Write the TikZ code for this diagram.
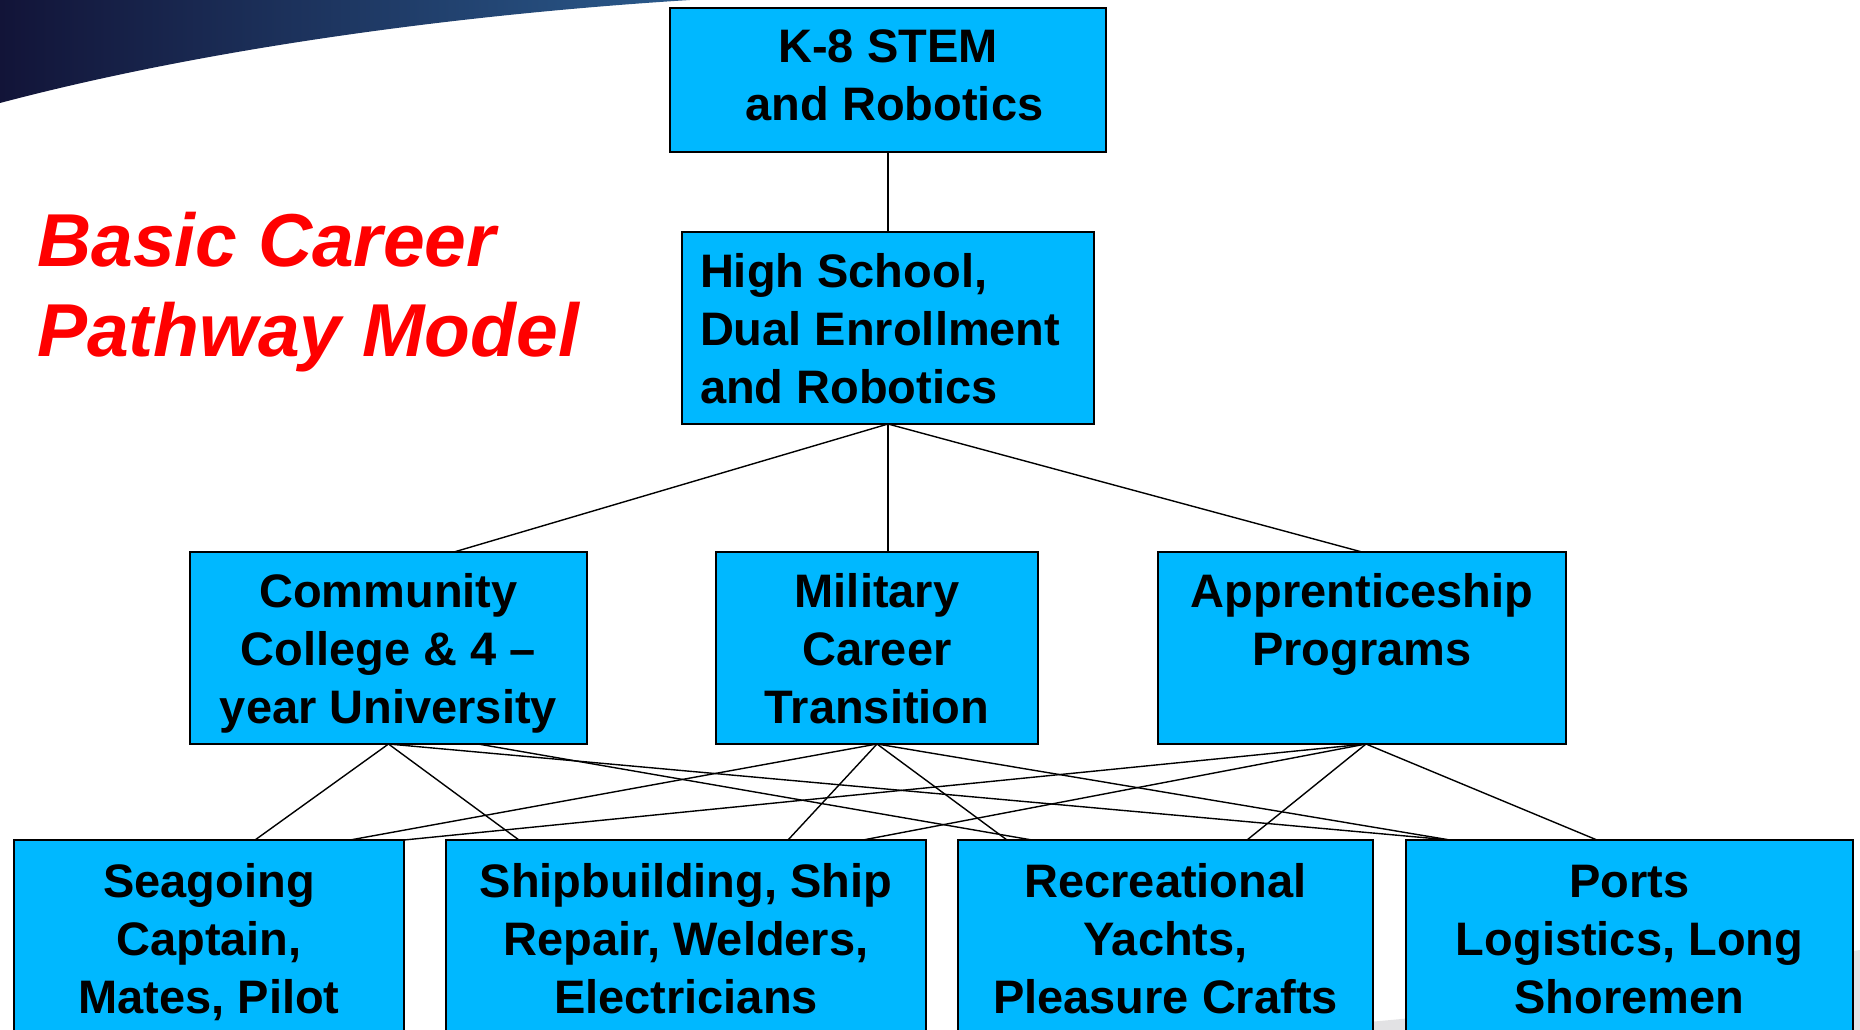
\documentclass[tikz,border=0pt]{standalone}
\usepackage{fontspec}
\setmainfont{Liberation Sans}
\definecolor{boxblue}{RGB}{0,184,255}
\definecolor{titlered}{RGB}{255,0,0}
\definecolor{navyL}{RGB}{18,20,56}
\definecolor{navyR}{RGB}{42,90,140}
\definecolor{swgray}{RGB}{226,226,228}
\newcommand{\cbx}[4]{\parbox[c][#2pt][t]{#1pt}{\centering\fontsize{47}{58}\selectfont\bfseries\rule{0pt}{#3pt}#4}}
\newcommand{\lbx}[4]{\parbox[c][#2pt][t]{#1pt}{\raggedright\leftskip=18pt\fontsize{47}{58}\selectfont\bfseries\rule{0pt}{#3pt}#4}}
\tikzset{
  pbox/.style={draw=black, line width=2pt, fill=boxblue, inner sep=0pt, outer sep=0pt, anchor=north west},
  link/.style={draw=black, line width=1.4pt},
  ttl/.style={anchor=base west, inner sep=0pt, text=titlered, font=\fontsize{75}{90}\selectfont\bfseries\itshape}
}
\begin{document}
\begin{tikzpicture}[x=1pt,y=-1pt]
\useasboundingbox (0,0) rectangle (1860,1030);
\clip (0,0) rectangle (1860,1030);
\fill[white] (0,0) rectangle (1860,1030);
% decorative swooshes
\shade[left color=navyL, right color=navyR] (0,0) -- (690,0) .. controls (450,15) and (200,50) .. (0,103) -- cycle;
\fill[swgray] (1250,1030) .. controls (1550,1015) and (1750,965) .. (1860,950) -- (1860,1030) -- cycle;
% title
\node[ttl] (t1) at (37,266) {Basic Career};
\node[ttl] (t2) at (37,356) {Pathway Model};
% boxes
\node[pbox] (k8) at (670,8) {\cbx{436}{144}{55}{K-8 STEM\\\hspace*{13pt}and Robotics}};
\node[pbox] (hs) at (682,232) {\lbx{412}{192}{55}{High School,\\Dual Enrollment\\and Robotics}};
\node[pbox] (cc) at (190,552) {\cbx{397}{192}{55}{Community\\College \& 4 --\\year University}};
\node[pbox] (mil) at (716,552) {\cbx{322}{192}{55}{Military\\Career\\Transition}};
\node[pbox] (app) at (1158,552) {\cbx{408}{192}{55}{Apprenticeship\\Programs}};
\node[pbox] (sea) at (14,840) {\cbx{390}{200}{57}{Seagoing\\Captain,\\Mates, Pilot}};
\node[pbox] (ship) at (446,840) {\cbx{480}{200}{57}{Shipbuilding, Ship\\Repair, Welders,\\Electricians}};
\node[pbox] (rec) at (958,840) {\cbx{415}{200}{57}{Recreational\\Yachts,\\Pleasure Crafts}};
\node[pbox] (ports) at (1406,840) {\cbx{447}{200}{57}{Ports\\Logistics, Long\\Shoremen}};
% upper connectors
\draw[link] (k8.south) -- (hs.north);
\draw[link] (hs.south) -- ([xshift=264pt]cc.north west);
\draw[link] (hs.south) -- ([xshift=172pt]mil.north west);
\draw[link] (hs.south) -- (app.north);
% community college
\draw[link] (cc.south) -- ([xshift=241pt]sea.north west);
\draw[link] (cc.south) -- ([xshift=73pt]ship.north west);
\draw[link] (cc.south) -- ([xshift=44pt]ports.north west);
\draw[link] ([xshift=288pt]cc.south west) -- ([xshift=74pt]rec.north west);
% military
\draw[link] (mil.south) -- ([xshift=336pt]sea.north west);
\draw[link] (mil.south) -- ([xshift=342pt]ship.north west);
\draw[link] (mil.south) -- ([xshift=49pt]rec.north west);
\draw[link] (mil.south) -- ([xshift=44pt]ports.north west);
% apprenticeship
\draw[link] ([xshift=4pt]app.south) -- (sea.north east);
\draw[link] ([xshift=4pt]app.south) -- ([xshift=417pt]ship.north west);
\draw[link] ([xshift=4pt]app.south) -- ([xshift=289pt]rec.north west);
\draw[link] ([xshift=4pt]app.south) -- ([xshift=191pt]ports.north west);
\end{tikzpicture}
\end{document}
